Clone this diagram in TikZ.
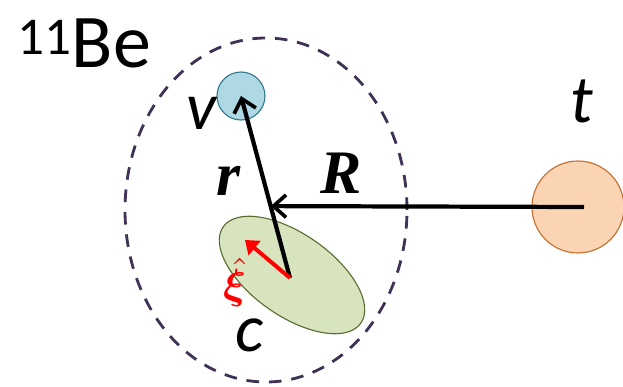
\documentclass[tikz,border=0pt]{standalone}
\usepackage{amsmath}
\usepackage{bm}
\usepackage{fontspec}
\setmainfont{Carlito}
\newfontfamily\serifbi{Liberation Serif}
\usepackage{tikz}
\usetikzlibrary{arrows.meta, calc, positioning, shapes.geometric}
\definecolor{halo}{RGB}{64,50,84}
\definecolor{valfill}{RGB}{174,216,228}
\definecolor{valdraw}{RGB}{49,122,140}
\definecolor{tfill}{RGB}{251,212,180}
\definecolor{tdraw}{RGB}{196,112,48}
\definecolor{corefill}{RGB}{215,228,189}
\definecolor{coredraw}{RGB}{90,110,50}
\tikzset{
  line cap=round,
  line join=round,
  particle/.style={draw, circle, inner sep=0pt, line width=0.8pt},
  vecarrow/.style={-{Straight Barb[length=9pt, width=16pt, line width=2.6pt]}, line width=3pt},
  redarrow/.style={-{Triangle[length=9pt, width=13pt]}, line width=2.8pt, red},
  label/.style={font=\fontsize{48}{48}\selectfont\itshape},
  vlabel/.style={font=\fontsize{44}{44}\selectfont\serifbi\bfseries\itshape}
}

\begin{document}
\begin{tikzpicture}
    \useasboundingbox (0,0) rectangle (15.575,9.675);
    % halo of the 11Be nucleus
    \draw[halo, dash pattern=on 9pt off 7pt, line width=2pt] (6.65,4.425) ellipse [x radius=3.525, y radius=4.3];
    \node[draw=coredraw, fill=corefill, ellipse, line width=0.8pt, minimum width=4.2cm, minimum height=2.05cm, rotate=-35] (core) at (7.3,2.8) {};
    \coordinate (cc) at (7.25,2.725);
    \node[particle, draw=valdraw, fill=valfill, minimum size=1.2cm] (v) at (6.025,7.275) {};
    \node[particle, draw=tdraw, fill=tfill, minimum size=2.3cm] (t) at (14.45,4.5) {};
    \coordinate (tc) at (14.6,4.5);
    \coordinate (cm) at ($(cc)!0.395!(v.center)$);
    \coordinate (xi) at (6.125,3.675);
    \draw[vecarrow] (cc) -- (v.center);
    \draw[vecarrow] (tc) -- (cm);
    \draw[redarrow] (cc) -- (xi);
    \node[font=\fontsize{54}{54}\selectfont] (be) at (2.1,8.6) {\textsuperscript{11}Be};
    \node[label] (vl) at (5.05,6.85) {v};
    \node[label] (tl) at (14.55,7.15) {t};
    \node[label] (cl) at (6.25,1.3) {c};
    \node[vlabel] (rl) at (5.72,5.15) {r};
    \node[vlabel] (Rl) at (8.52,5.35) {R};
    \node[red, scale=3] (xil) at (5.86,2.62) {$\hat{\bm{\xi}}$};
  \end{tikzpicture}
\end{document}
